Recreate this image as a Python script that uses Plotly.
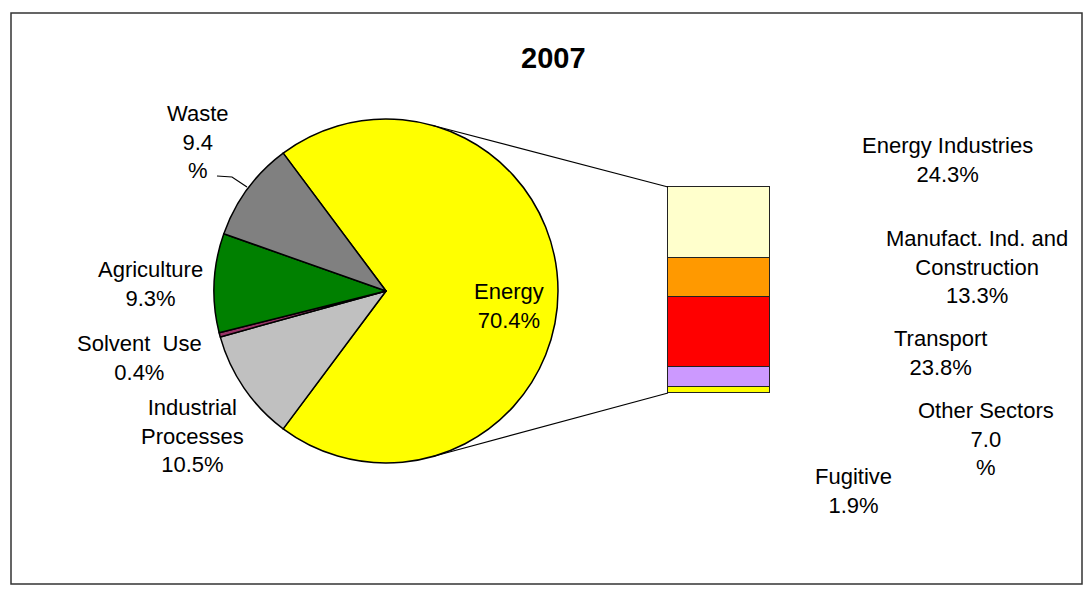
import math
import plotly.graph_objects as go

W, H = 1084, 591

# ---- data ----
title_text = "2007"
pie_labels = ["Energy", "Industrial<br>Processes", "Solvent  Use", "Agriculture", "Waste"]
pie_values = [70.4, 10.5, 0.4, 9.3, 9.4]
pie_colors = ["#FFFF00", "#C0C0C0", "#993366", "#008000", "#808080"]

bar_labels = ["Energy Industries", "Manufact. Ind. and<br>Construction", "Transport", "Other Sectors", "Fugitive"]
bar_values = [24.3, 13.3, 23.8, 7.0, 1.9]
bar_colors = ["#FFFFCC", "#FF9900", "#FF0000", "#CC99FF", "#FFFF00"]

split_pct = {"Waste", "Other Sectors"}  # labels where "%" wraps onto its own line


def px(x):
    return x / W


def py(y):
    return 1 - y / H


def label_text(name, v):
    if name in split_pct:
        return f"{name}<br>{v:.1f}<br>%"
    return f"{name}<br>{v:.1f}%"


fig = go.Figure()

# pie
pie_box = (213, 119, 559, 463)  # px: left, top, right, bottom
rotation = 90 - pie_values[0] / sum(pie_values) * 360 / 2
fig.add_trace(go.Pie(
    labels=pie_labels, values=pie_values, sort=False, direction="clockwise",
    rotation=rotation, textinfo="none", hoverinfo="label+percent",
    marker=dict(colors=pie_colors, line=dict(color="#000000", width=1.5)),
    domain=dict(x=[px(pie_box[0]), px(pie_box[2])], y=[py(pie_box[3]), py(pie_box[1])]),
    showlegend=False,
))

# stacked bar (bottom first)
bar_box = (668, 187, 770, 393)
pad = 3  # px of padding so the outline isn't clipped
bw = bar_box[2] - bar_box[0]
bh = bar_box[3] - bar_box[1]
total = sum(bar_values)
xr = [-0.5 - pad / bw, 0.5 + pad / bw]
yr = [0 - pad / bh * total, total + pad / bh * total]
for name, v, c in reversed(list(zip(bar_labels, bar_values, bar_colors))):
    fig.add_trace(go.Bar(
        x=[0], y=[v], name=name, width=1,
        marker=dict(color=c, line=dict(color="#222222", width=1.5)),
        xaxis="x", yaxis="y", showlegend=False, hoverinfo="name+y",
    ))

fig.update_layout(
    width=W, height=H, margin=dict(l=0, r=0, t=0, b=0),
    paper_bgcolor="white", plot_bgcolor="rgba(0,0,0,0)",
    barmode="stack", bargap=0,
    xaxis=dict(domain=[px(bar_box[0] - pad), px(bar_box[2] + pad)], range=xr, visible=False, fixedrange=True),
    yaxis=dict(domain=[py(bar_box[3] + pad), py(bar_box[1] - pad)], range=yr, visible=False, fixedrange=True),
    font=dict(family="Liberation Sans, Arial, sans-serif", size=22, color="#000000"),
)

# annotations
annos = [dict(x=px(553), y=py(58), text=f"<b>{title_text}</b>", font=dict(size=29))]
pie_pos = [(509, 306), (192, 436), (139, 358), (150, 284), (198, 142)]
for name, v, (x, y) in zip(pie_labels, pie_values, pie_pos):
    annos.append(dict(x=px(x), y=py(y), text=label_text(name, v)))
bar_pos = [(947, 160), (977, 267), (940, 353), (986, 439), (853, 491)]
for name, v, (x, y) in zip(bar_labels, bar_values, bar_pos):
    annos.append(dict(x=px(x), y=py(y), text=label_text(name, v)))
for a in annos:
    a.update(xref="paper", yref="paper", xanchor="center", yanchor="middle", showarrow=False)
fig.update_layout(annotations=annos)

# connector lines from pie edge to bar top/bottom
cx, cy = (pie_box[0] + pie_box[2]) / 2, (pie_box[1] + pie_box[3]) / 2
r = min(pie_box[2] - pie_box[0], pie_box[3] - pie_box[1]) / 2
ang = math.radians(15.8)
top_pt = (cx + r * math.sin(ang), cy - r * math.cos(ang))
bot_pt = (cx + r * math.sin(ang), cy + r * math.cos(ang))
shapes = [
    dict(type="line", xref="paper", yref="paper", x0=px(top_pt[0]), y0=py(top_pt[1]),
         x1=px(bar_box[0]), y1=py(bar_box[1]), line=dict(color="#000000", width=1.2)),
    dict(type="line", xref="paper", yref="paper", x0=px(bot_pt[0]), y0=py(bot_pt[1]),
         x1=px(bar_box[0]), y1=py(bar_box[3]), line=dict(color="#000000", width=1.2)),
    # waste leader line
    dict(type="path", xref="paper", yref="paper",
         path=f"M {px(217)} {py(176)} L {px(232)} {py(177)} L {px(247)} {py(187)}",
         line=dict(color="#000000", width=1.2)),
    # outer border
    dict(type="rect", xref="paper", yref="paper", x0=px(11), y0=py(584), x1=px(1082), y1=py(13),
         line=dict(color="#333333", width=1.5), layer="below"),
]
fig.update_layout(shapes=shapes)

fig.write_html("out.html", config={"displayModeBar": False},
               post_script="document.body.style.margin='0';document.body.style.padding='0';")
